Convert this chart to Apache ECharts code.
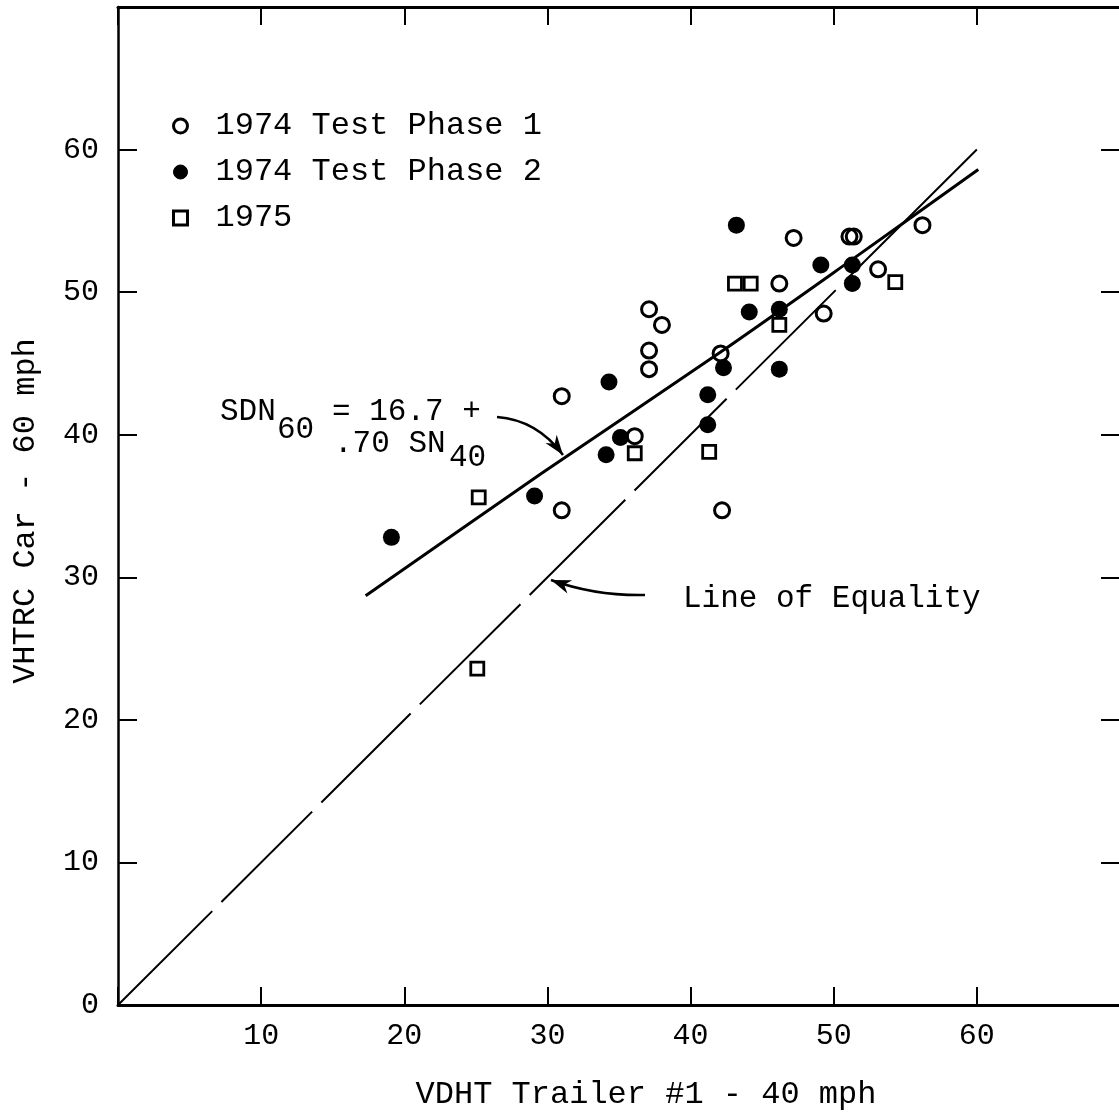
<!DOCTYPE html>
<html>
<head>
<meta charset="utf-8">
<script src="https://cdn.jsdelivr.net/npm/echarts@6/dist/echarts.min.js"></script>
<style>
html,body{margin:0;padding:0;background:#ffffff;}
#chart{width:1119px;height:1113px;}
</style>
</head>
<body>
<div id="chart"></div>
<script>
// ---- data ----
const xTickLabels = [10, 20, 30, 40, 50, 60];
const yTickLabels = [0, 10, 20, 30, 40, 50, 60];

const seriesNames = ['1974 Test Phase 1', '1974 Test Phase 2', '1975'];

const phase1X = [31.0, 31.0, 36.1, 37.1, 38.0, 37.1, 37.1, 42.1, 42.2, 46.2, 47.2, 49.3, 51.1, 51.4, 53.1, 56.2];
const phase1Y = [34.7, 42.7, 39.9, 48.8, 47.7, 45.9, 44.6, 45.7, 34.7, 50.6, 53.8, 48.5, 53.9, 53.9, 51.6, 54.7];

const phase2X = [19.1, 29.1, 34.1, 35.1, 34.3, 41.2, 41.2, 42.3, 46.2, 44.1, 46.2, 43.2, 49.1, 51.3, 51.3];
const phase2Y = [32.8, 35.7, 38.6, 39.8, 43.7, 40.7, 42.8, 44.7, 44.6, 48.6, 48.8, 54.7, 51.9, 51.9, 50.6];

const y1975X = [25.1, 25.2, 36.1, 41.3, 43.1, 44.2, 46.2, 54.3];
const y1975Y = [23.6, 35.6, 38.7, 38.8, 50.6, 50.6, 47.7, 50.7];

// regression line SDN60 = 16.7 + .70 SN40
const regX = [17.3, 29.6, 42.1, 51.3, 60.1];
const regY = [28.7, 37.3, 45.8, 52.3, 58.6];

// line of equality
const eqX = [0, 60];
const eqY = [0, 60];

// ---- chart ----
const FONT = 'Liberation Mono';
const zip = (a, b) => a.map((v, i) => [v, b[i]]);

const chart = echarts.init(document.getElementById('chart'), null, { renderer: 'canvas' });

const axisTextStyle = { fontFamily: FONT, fontSize: 30, color: '#000' };

chart.setOption({
  animation: false,
  backgroundColor: '#ffffff',
  grid: { left: 118, top: 7, width: 1002, height: 998, containLabel: false, outerBoundsMode: 'none' },
  legend: {
    orient: 'vertical',
    left: 172,
    top: 110,
    padding: 0,
    itemWidth: 14,
    itemHeight: 14,
    itemGap: 14,
    selectedMode: false,
    textStyle: { fontFamily: FONT, fontSize: 32, color: '#000', padding: [0, 0, 0, 23] },
    data: [
      { name: seriesNames[0], icon: 'circle', itemStyle: { color: 'rgba(0,0,0,0)', borderColor: '#000', borderWidth: 3 } },
      { name: seriesNames[1], icon: 'circle', itemStyle: { color: '#000', borderColor: '#000', borderWidth: 1 } },
      { name: seriesNames[2], icon: 'rect', itemStyle: { color: 'rgba(0,0,0,0)', borderColor: '#000', borderWidth: 3 } }
    ]
  },
  xAxis: [
    {
      type: 'value', position: 'bottom', min: 0, max: 70, interval: 10,
      axisLine: { show: true, onZero: false, lineStyle: { color: '#000', width: 3 } },
      axisTick: { show: true, inside: true, length: 18, lineStyle: { color: '#000', width: 2 } },
      axisLabel: {
        ...axisTextStyle, margin: 16,
        formatter: v => (xTickLabels.indexOf(v) >= 0 ? String(v) : '')
      },
      splitLine: { show: false },
      name: 'VDHT Trailer #1 - 40 mph',
      nameLocation: 'middle',
      nameGap: 74,
      nameTextStyle: { fontFamily: FONT, fontSize: 32, color: '#000', padding: [0, 0, 0, 54] }
    },
    {
      type: 'value', position: 'top', min: 0, max: 70, interval: 10,
      axisLine: { show: true, onZero: false, lineStyle: { color: '#000', width: 3 } },
      axisTick: { show: true, inside: true, length: 18, lineStyle: { color: '#000', width: 2 } },
      axisLabel: { show: false },
      splitLine: { show: false }
    }
  ],
  yAxis: [
    {
      type: 'value', position: 'left', min: 0, max: 70, interval: 10,
      axisLine: { show: true, onZero: false, lineStyle: { color: '#000', width: 2.5 } },
      axisTick: { show: true, inside: true, length: 19, lineStyle: { color: '#000', width: 2 } },
      axisLabel: {
        ...axisTextStyle, margin: 19, padding: [0, 0, 8, 0],
        formatter: v => (yTickLabels.indexOf(v) >= 0 ? String(v) : '')
      },
      splitLine: { show: false },
      name: 'VHTRC Car - 60 mph',
      nameLocation: 'middle',
      nameGap: 76,
      nameTextStyle: { fontFamily: FONT, fontSize: 32, color: '#000', padding: [0, 10, 0, 0] }
    },
    {
      type: 'value', position: 'right', min: 0, max: 70, interval: 10,
      axisLine: { show: true, onZero: false, lineStyle: { color: '#000', width: 2 } },
      axisTick: { show: true, inside: true, length: 19, lineStyle: { color: '#000', width: 2 } },
      axisLabel: { show: false },
      splitLine: { show: false }
    }
  ],
  series: [
    {
      name: 'Line of Equality', type: 'line', data: zip(eqX, eqY),
      showSymbol: false, symbol: 'none', z: 1,
      lineStyle: { color: '#000', width: 2, type: [133, 13, 128, 13, 126, 13, 142, 13, 135, 13, 130, 13, 141, 13, 400, 0] }
    },
    {
      name: 'SDN60 regression', type: 'line', data: zip(regX, regY),
      showSymbol: false, symbol: 'none', smooth: 0.3, z: 1,
      lineStyle: { color: '#000', width: 3 }
    },
    {
      name: seriesNames[0], type: 'scatter', data: zip(phase1X, phase1Y),
      symbol: 'circle', symbolSize: 15, z: 3,
      itemStyle: { color: 'rgba(0,0,0,0)', borderColor: '#000', borderWidth: 3, opacity: 1 }
    },
    {
      name: seriesNames[1], type: 'scatter', data: zip(phase2X, phase2Y),
      symbol: 'circle', symbolSize: 17, z: 3,
      itemStyle: { color: '#000', borderWidth: 0, opacity: 1 }
    },
    {
      name: seriesNames[2], type: 'scatter', data: zip(y1975X, y1975Y),
      symbol: 'rect', symbolSize: 13, z: 3,
      itemStyle: { color: 'rgba(0,0,0,0)', borderColor: '#000', borderWidth: 2.8, opacity: 1 }
    }
  ]
});

// ---- annotations (text + curved arrows) ----
function arrowHead(tip, from, len, half) {
  const dx = tip[0] - from[0], dy = tip[1] - from[1];
  const d = Math.sqrt(dx * dx + dy * dy);
  const ux = dx / d, uy = dy / d, px = -uy, py = ux;
  const bx = tip[0] - ux * len, by = tip[1] - uy * len;
  const nx = tip[0] - ux * len * 0.7, ny = tip[1] - uy * len * 0.7;
  return {
    type: 'polygon', z: 10,
    shape: { points: [tip, [bx + px * half, by + py * half], [nx, ny], [bx - px * half, by - py * half]] },
    style: { fill: '#000' }
  };
}
const txt = (x, y, s, size) => ({
  type: 'text', x: x, y: y, z: 10,
  style: { text: s, font: size + 'px "' + FONT + '"', fill: '#000', verticalAlign: 'middle', align: 'left' }
});

const a1 = { p0: [497, 417], c: [537, 420], p1: [563, 455] };
const a2 = { p0: [645, 595], c: [595, 596], p1: [551, 580] };

chart.setOption({
  graphic: [
    txt(220, 412, 'SDN', 31),
    txt(277, 430, '60', 31),
    txt(332, 412, '= 16.7 +', 31),
    txt(334, 444, '.70 SN', 31),
    txt(449, 458, '40', 31),
    txt(683, 599, 'Line of Equality', 31),
    {
      type: 'bezierCurve', z: 10,
      shape: { x1: a1.p0[0], y1: a1.p0[1], cpx1: a1.c[0], cpy1: a1.c[1], x2: a1.p1[0], y2: a1.p1[1] },
      style: { stroke: '#000', lineWidth: 2.5, fill: null }
    },
    arrowHead(a1.p1, a1.c, 20, 7),
    {
      type: 'bezierCurve', z: 10,
      shape: { x1: a2.p0[0], y1: a2.p0[1], cpx1: a2.c[0], cpy1: a2.c[1], x2: a2.p1[0], y2: a2.p1[1] },
      style: { stroke: '#000', lineWidth: 2.5, fill: null }
    },
    arrowHead(a2.p1, a2.c, 20, 7)
  ]
});
</script>
</body>
</html>
